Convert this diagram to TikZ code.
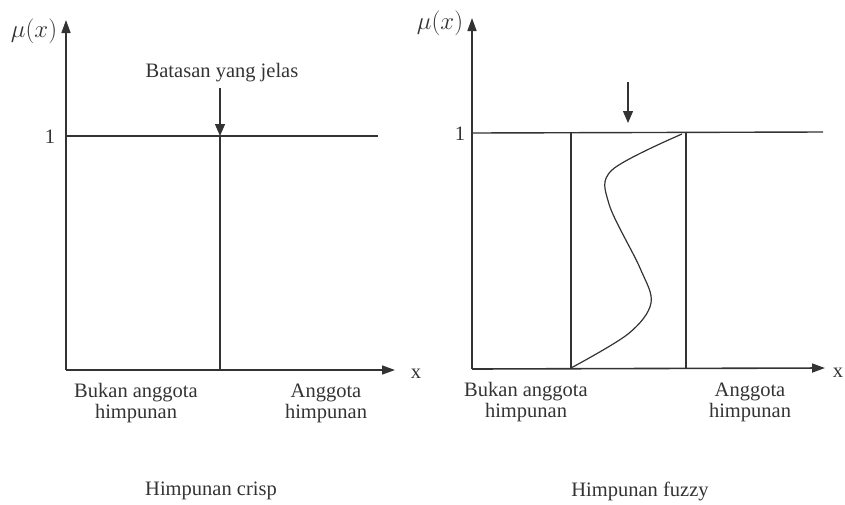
\documentclass[tikz,border=0pt]{standalone}
\usepackage{fontspec}
\setmainfont{Liberation Serif}
\usetikzlibrary{arrows.meta}
\begin{document}
\begin{tikzpicture}[x=1pt,y=-1pt,
  axis/.style={line width=1.6pt,color=black!80,-{Triangle[length=13pt,width=9pt]}},
  ln/.style={line width=1.4pt,color=black!80},
  down/.style={line width=1.3pt,color=black!80,-{Triangle[length=12pt,width=10pt]}},
  lbl/.style={font=\fontsize{20.5}{21}\selectfont,color=black!80,align=center,inner sep=0pt},
  mu/.style={font=\fontsize{25}{27}\selectfont,color=black!80,inner sep=0pt}]
\useasboundingbox (0,0) rectangle (845,504);
% ---------- left: crisp ----------
\coordinate (lo) at (66,370);
\coordinate (ly) at (66,20);
\coordinate (lx) at (395,370);
\coordinate (l1a) at (66,136);
\coordinate (l1b) at (378,136);
\coordinate (lct) at (220,136);
\coordinate (lcb) at (220,370);
\coordinate (lat) at (220,88);
\draw[axis] (lo) -- (ly);
\draw[axis] (lo) -- (lx);
\draw[ln] (l1a) -- (l1b);
\draw[ln] (lct) -- (lcb);
\node[lbl] (lbat) at (222,73) {Batasan yang jelas};
\draw[down] (lat) -- (lct);
\node[mu] (lmu) at (34,31) {$\mu(x)$};
\node[lbl] (lone) at (50,137) {1};
\node[lbl] (lxl) at (416,374) {x};
\node[lbl] (lbukan) at (136,403) {Bukan anggota\\himpunan};
\node[lbl] (lang) at (326,403) {Anggota\\himpunan};
\node[lbl] (ltitle) at (211,491) {Himpunan crisp};
% ---------- right: fuzzy ----------
\coordinate (ro) at (472,369);
\coordinate (ry) at (472,18);
\coordinate (rx) at (825,368);
\coordinate (r1a) at (472,133);
\coordinate (r1b) at (823,132);
\coordinate (rlt) at (571,133);
\coordinate (rlb) at (571,368);
\coordinate (rrt) at (686,133);
\coordinate (rrb) at (686,368);
\coordinate (rat) at (628,82);
\coordinate (rah) at (628,123);
\draw[axis] (ro) -- (ry);
\draw[axis] (ro) -- (rx);
\draw[ln] (r1a) -- (r1b);
\draw[ln] (rlt) -- (rlb);
\draw[ln] (rrt) -- (rrb);
\draw[down] (rat) -- (rah);
\draw[ln,line width=1.2pt] plot[smooth,tension=0.55] coordinates
  {(rlb) (628,334) (651,303) (640,268) (609,204) (612,170) (682,134)};
\node[mu] (rmu) at (440,23) {$\mu(x)$};
\node[lbl] (rone) at (460,134) {1};
\node[lbl] (rxl) at (838,373) {x};
\node[lbl] (rbukan) at (526,402) {Bukan anggota\\himpunan};
\node[lbl] (rang) at (750,402) {Anggota\\himpunan};
\node[lbl] (rtitle) at (640,491) {Himpunan fuzzy};
\end{tikzpicture}
\end{document}
